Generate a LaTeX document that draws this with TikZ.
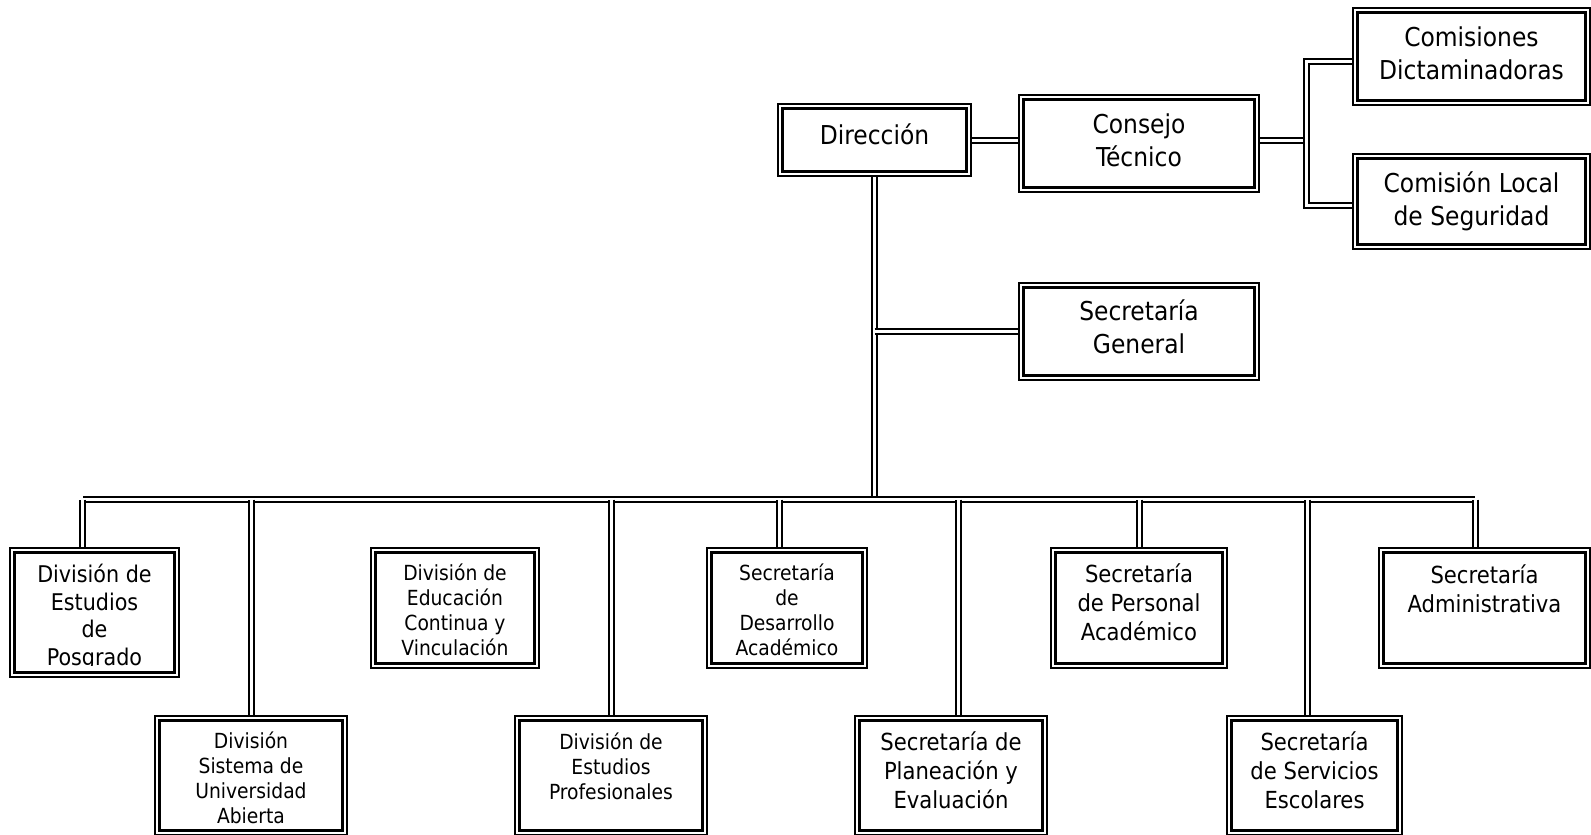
\documentclass[tikz,border=0pt]{standalone}
\usepackage{fontspec}
\setmainfont{DejaVu Sans Condensed}
\usetikzlibrary{positioning,calc}

\begin{document}
\begin{tikzpicture}[x=1pt, y=-1pt,
  org box/.style={draw, line width=3pt, inner sep=0pt, outer sep=5.2pt},
  conn/.style={double, line width=2pt, double distance=3pt},
  big/.style={font=\fontsize{26}{32.7}\selectfont, align=center, anchor=base},
  mid/.style={font=\fontsize{23.5}{29}\selectfont, align=center, anchor=base},
  small/.style={font=\fontsize{20.8}{25}\selectfont, align=center, anchor=base}]
\useasboundingbox (0,0) rectangle (1591,835);
\begin{scope}[every node/.style={org box}]
\node[minimum width=184.6pt, minimum height=63.6pt] (dir) at (874.5,140) {};
\node[minimum width=231.6pt, minimum height=88.6pt] (ct) at (1139,143.5) {};
\node[minimum width=231.6pt, minimum height=88.6pt] (sg) at (1139,331.5) {};
\node[minimum width=228.6pt, minimum height=88.6pt] (cd) at (1471.5,56.5) {};
\node[minimum width=228.6pt, minimum height=86.6pt] (cls) at (1471.5,201.5) {};
\node[minimum width=160.6pt, minimum height=120.6pt] (dpos) at (94.5,612.5) {};
\node[minimum width=159.6pt, minimum height=111.6pt] (dedu) at (455,608) {};
\node[minimum width=151.6pt, minimum height=111.6pt] (sdac) at (787,608) {};
\node[minimum width=167.6pt, minimum height=111.6pt] (sper) at (1139,608) {};
\node[minimum width=202.6pt, minimum height=111.6pt] (sadm) at (1484.5,608) {};
\node[minimum width=183.6pt, minimum height=110.6pt] (dsua) at (251,775.5) {};
\node[minimum width=183.6pt, minimum height=110.6pt] (dprof) at (611,775.5) {};
\node[minimum width=183.6pt, minimum height=110.6pt] (splan) at (951,775.5) {};
\node[minimum width=166.6pt, minimum height=110.6pt] (sserv) at (1314.5,775.5) {};
\end{scope}
\foreach \n in {dir,ct,sg,cd,cls,dpos,dedu,sdac,sper,sadm,dsua,dprof,splan,sserv}
  \draw[line width=1.6pt] ([shift={(0.8,0.8)}]\n.north west) rectangle ([shift={(-0.8,-0.8)}]\n.south east);

\node[big] (dir-t) at (874.5,144) {Dirección};
\node[big] (ct-t) at (1139,166) {Consejo\\Técnico};
\node[big] (sg-t) at (1139,353) {Secretaría\\General};
\node[big] (cd-t) at (1471.5,79) {Comisiones\\Dictaminadoras};
\node[big] (cls-t) at (1471.5,225) {Comisión Local\\de Seguridad};
\begin{scope}
\clip (0,540) rectangle (190,665.5);
\node[font=\fontsize{23}{27.5}\selectfont, align=center, anchor=base] (dpos-t) at (94.5,665) {División de\\Estudios\\de\\Posgrado};
\end{scope}
\node[small] (dedu-t) at (455,655) {División de\\Educación\\Continua y\\Vinculación};
\node[small] (sdac-t) at (787,655) {Secretaría\\de\\Desarrollo\\Académico};
\node[mid] (sper-t) at (1139,640) {Secretaría\\de Personal\\Académico};
\node[mid] (sadm-t) at (1484.5,612) {Secretaría\\Administrativa};
\node[small] (dsua-t) at (251,823) {División\\Sistema de\\Universidad\\Abierta};
\node[small] (dprof-t) at (611,799) {División de\\Estudios\\Profesionales};
\node[mid] (splan-t) at (951,808) {Secretaría de\\Planeación y\\Evaluación};
\node[mid] (sserv-t) at (1314.5,808) {Secretaría\\de Servicios\\Escolares};

\coordinate (br) at (1306,140);
\coordinate (brt) at (1306,61);
\coordinate (brb) at (1306,205);
\coordinate (barl) at (83,499.5);
\coordinate (barr) at (1475,499.5);
\draw[conn] (dir.east) -- (dir.east -| ct.west);
\draw[conn] (ct.east |- br) -- (br);
\draw[conn] (brt -| cd.west) -- (brt) -- (brb) -- (brb -| cls.west);
\draw[conn] (dir.south) -- (dir.south |- barl);
\draw[conn] (dir.south |- sg.west) -- (sg.west);
\draw[conn] (barl) -- (barr);
\foreach \x/\n in {82.5/dpos,251/dsua,611/dprof,779/sdac,958/splan,1139/sper,1307/sserv,1475/sadm}{
  \coordinate (b-\n) at (\x,499.5);
  \draw[conn] (b-\n) -- (b-\n |- \n.north);
}
\end{tikzpicture}
\end{document}
